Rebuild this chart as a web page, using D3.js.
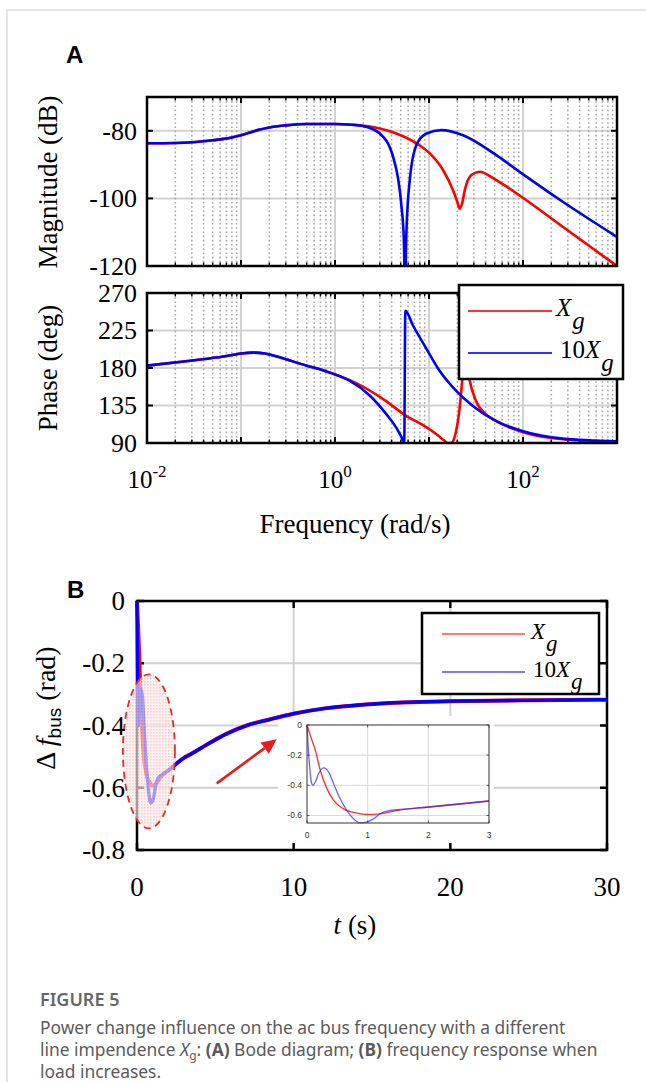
<!DOCTYPE html>
<html lang="en">
<head>
<meta charset="UTF-8">
<title>Figure 5</title>
<style>
  body { margin: 0; background: #fff; }
  svg { display: block; }
</style>
</head>
<body>
<svg id="fig" width="646" height="1082"></svg>
<script src="https://cdnjs.cloudflare.com/ajax/libs/d3/7.8.5/d3.min.js"></script>
<script>
// ---- data ----
const seriesNames = ["X", "10X"];          // legend: X_g and 10X_g
const seriesColors = ["#ff0000", "#0000ff"];

// Bode magnitude (dB)
const magFreqXg  = [0.01, 0.02, 0.03, 0.05, 0.07, 0.1, 0.15, 0.2, 0.3, 0.5, 1, 1.5, 2, 3, 4.5, 7.35, 10.2, 14.1, 18, 20, 21.2, 22.5, 24, 28.2, 34.5, 52, 97, 265, 1000];
const magXg      = [-83.7, -83.6, -83.4, -82.8, -82.3, -81.3, -79.8, -79.0, -78.4, -78.0, -78.0, -78.2, -78.5, -79.3, -80.8, -83.7, -86.7, -91.6, -97.6, -101, -103, -101.5, -97.6, -93.1, -92.1, -94.6, -99.6, -108.4, -120];
const magFreq10Xg = [0.01, 0.02, 0.03, 0.05, 0.07, 0.1, 0.15, 0.2, 0.3, 0.5, 1, 1.5, 2, 3, 4.15, 5.1, 5.4, 5.55, 5.75, 6.24, 7.35, 9.4, 13.5, 23, 52, 97, 265, 1000];
const mag10Xg     = [-83.7, -83.6, -83.4, -82.8, -82.3, -81.3, -79.8, -79.0, -78.4, -78.0, -78.0, -78.2, -78.6, -80.8, -87.7, -102.5, -112, -126, -110, -94.6, -84.2, -80.8, -79.8, -81.3, -87.2, -92.6, -101.0, -111.4];

// Bode phase (deg)
const phFreqXg  = [0.01, 0.029, 0.065, 0.1, 0.136, 0.18, 0.22, 0.5, 0.8, 1.13, 1.44, 2.34, 3.53, 5.75, 8, 10.2, 12.5, 14.5, 15.9, 17.2, 18.6, 21.2, 22.6, 24.5, 27, 31.6, 40.5, 52, 100, 265, 1000];
const phXg      = [182.8, 188.8, 193.7, 197.5, 198.5, 197.5, 194.9, 182.8, 176, 170, 165.5, 153, 140, 122.3, 113.5, 106.2, 99, 93, 90, 90, 96.1, 132.4, 165.8, 198, 166, 140.4, 124.3, 116.2, 103, 94.5, 91.5];
const phFreq10Xg = [0.01, 0.029, 0.065, 0.1, 0.136, 0.18, 0.22, 0.5, 0.8, 1.13, 1.44, 2.34, 3.53, 4.5, 5.1, 5.45, 5.6, 6.76, 9.4, 12.9, 19.5, 29.3, 52, 100, 265, 1000];
const ph10Xg     = [182.8, 188.8, 193.7, 197.5, 198.5, 197.5, 194.9, 182.8, 176, 170, 164.5, 147, 124.3, 108.2, 97, 90, 248.5, 231, 203, 177, 152.5, 134.4, 116.2, 104.1, 95.3, 92];

const magTicks = [-80, -100, -120];
const phaseTicks = [90, 135, 180, 225, 270];
const freqTickExp = [-2, 0, 2];

// Frequency response (rad), first 3 s per series, then the common tail
const tEarlyXg  = [0, 0.005, 0.03, 0.137, 0.219, 0.328, 0.438, 0.602, 0.821, 0.985, 1.204, 1.478, 2.009, 3.0];
const dfEarlyXg = [0, -0.005, -0.04, -0.167, -0.3, -0.422, -0.5, -0.556, -0.584, -0.593, -0.589, -0.567, -0.544, -0.504];
const tEarly10Xg  = [0, 0.016, 0.044, 0.071, 0.099, 0.137, 0.192, 0.274, 0.356, 0.438, 0.547, 0.657, 0.766, 0.876, 0.985, 1.095, 1.204, 1.368, 1.478, 2.009, 3.0];
const dfEarly10Xg = [0, -0.122, -0.278, -0.378, -0.4, -0.378, -0.322, -0.284, -0.311, -0.389, -0.489, -0.567, -0.622, -0.649, -0.644, -0.622, -0.589, -0.567, -0.562, -0.544, -0.504];
const tLate  = [3.5, 4.5, 5.7, 7, 8.5, 10, 12, 14, 17, 20, 25, 30];
const dfLate = [-0.49, -0.46, -0.427, -0.40, -0.38, -0.362, -0.345, -0.335, -0.326, -0.322, -0.319, -0.317];

const tTicks = [0, 10, 20, 30];
const dfTicks = [0, -0.2, -0.4, -0.6, -0.8];
const insetTTicks = [0, 1, 2, 3];
const insetDfTicks = [0, -0.2, -0.4, -0.6];

// ---- drawing ----
const svg = d3.select("#fig");
const serif = '"Liberation Serif", "Times New Roman", serif';
const sans = '"Liberation Sans", Arial, sans-serif';

// card border
svg.append("line").attr("x1", 7).attr("y1", 10).attr("x2", 646).attr("y2", 10).attr("stroke", "#dcdcdc").attr("stroke-width", 1.5);
svg.append("line").attr("x1", 7).attr("y1", 10).attr("x2", 7).attr("y2", 1082).attr("stroke", "#dcdcdc").attr("stroke-width", 1.5);

const defs = svg.append("defs");

function zip(xs, ys) { return xs.map((x, i) => [x, ys[i]]); }

// ===== Panel A =====
svg.append("text").attr("x", 66).attr("y", 63).attr("font-family", sans).attr("font-weight", "bold")
  .attr("font-size", 24).text("A");

const x = d3.scaleLog().domain([0.01, 1000]).range([147, 617]);
const yMag = d3.scaleLinear().domain([-120, -70]).range([266, 97]);
const yPh = d3.scaleLinear().domain([90, 270]).range([443, 293]);

const minorFreqs = [];
d3.range(-2, 3).forEach(e => d3.range(2, 10).forEach(k => minorFreqs.push(k * Math.pow(10, e))));
const majorFreqs = d3.range(-2, 4).map(e => Math.pow(10, e));

function bodePanel(yScale, ticks, series, clipId) {
  const [y0, y1] = yScale.range();
  const g = svg.append("g");
  // grid
  g.selectAll(".hg").data(ticks).join("line")
    .attr("x1", x.range()[0]).attr("x2", x.range()[1])
    .attr("y1", d => yScale(d)).attr("y2", d => yScale(d))
    .attr("stroke", "#d2d2d2").attr("stroke-width", 2);
  g.selectAll(".mg").data(minorFreqs).join("line")
    .attr("x1", d => x(d)).attr("x2", d => x(d)).attr("y1", y1).attr("y2", y0)
    .attr("stroke", "#a8a8a8").attr("stroke-width", 1.6).attr("stroke-dasharray", "1.6,2.6");
  g.selectAll(".Mg").data(majorFreqs.slice(1, -1)).join("line")
    .attr("x1", d => x(d)).attr("x2", d => x(d)).attr("y1", y1).attr("y2", y0)
    .attr("stroke", "#d2d2d2").attr("stroke-width", 2);
  // ticks (inside, all four sides)
  [y0, y1].forEach((yy, i) => {
    const dir = i === 0 ? -1 : 1;
    g.selectAll(null).data(majorFreqs).join("line")
      .attr("x1", d => x(d)).attr("x2", d => x(d)).attr("y1", yy).attr("y2", yy + dir * 6)
      .attr("stroke", "#000").attr("stroke-width", 2);
    g.selectAll(null).data(minorFreqs).join("line")
      .attr("x1", d => x(d)).attr("x2", d => x(d)).attr("y1", yy).attr("y2", yy + dir * 3.5)
      .attr("stroke", "#000").attr("stroke-width", 1.4);
  });
  [x.range()[0], x.range()[1]].forEach((xx, i) => {
    const dir = i === 0 ? 1 : -1;
    g.selectAll(null).data(ticks).join("line")
      .attr("x1", xx).attr("x2", xx + dir * 6).attr("y1", d => yScale(d)).attr("y2", d => yScale(d))
      .attr("stroke", "#000").attr("stroke-width", 2);
  });
  // curves
  defs.append("clipPath").attr("id", clipId).append("rect")
    .attr("x", x.range()[0]).attr("y", y1).attr("width", x.range()[1] - x.range()[0]).attr("height", y0 - y1);
  const line = d3.line().x(d => x(d[0])).y(d => yScale(d[1])).curve(d3.curveMonotoneX);
  const cg = g.append("g").attr("clip-path", `url(#${clipId})`);
  series.forEach((s, i) => {
    cg.append("path").attr("d", line(s)).attr("fill", "none")
      .attr("stroke", seriesColors[i]).attr("stroke-width", 2.6).attr("stroke-linejoin", "round");
  });
  // frame
  g.append("rect").attr("x", x.range()[0]).attr("y", y1)
    .attr("width", x.range()[1] - x.range()[0]).attr("height", y0 - y1)
    .attr("fill", "none").attr("stroke", "#000").attr("stroke-width", 2.5);
  // tick labels
  g.selectAll(".yl").data(ticks).join("text")
    .attr("x", 137).attr("y", d => yScale(d)).attr("dy", "0.34em")
    .attr("text-anchor", "end").attr("font-family", serif).attr("font-size", 26)
    .text(d => d < 0 ? "-" + Math.abs(d) : d);
  return g;
}

bodePanel(yMag, magTicks, [zip(magFreqXg, magXg), zip(magFreq10Xg, mag10Xg)], "clipMag");
bodePanel(yPh, phaseTicks, [zip(phFreqXg, phXg), zip(phFreq10Xg, ph10Xg)], "clipPh");

// axis titles A
svg.append("text").attr("transform", "translate(57,182) rotate(-90)").attr("text-anchor", "middle")
  .attr("font-family", serif).attr("font-size", 27).text("Magnitude (dB)");
svg.append("text").attr("transform", "translate(57,368) rotate(-90)").attr("text-anchor", "middle")
  .attr("font-family", serif).attr("font-size", 27).text("Phase (deg)");

// frequency tick labels
const ftl = svg.selectAll(".ftl").data(freqTickExp).join("text")
  .attr("x", d => x(Math.pow(10, d))).attr("y", 488)
  .attr("text-anchor", "middle").attr("font-family", serif).attr("font-size", 25);
ftl.append("tspan").text("10");
ftl.append("tspan").attr("dy", -11).attr("font-size", 17).text(d => d < 0 ? "-" + Math.abs(d) : d);
svg.append("text").attr("x", 355).attr("y", 533).attr("text-anchor", "middle")
  .attr("font-family", serif).attr("font-size", 27).text("Frequency (rad/s)");

// legend helper
function legend(x0, y0, w, h, rows, lineW, lineColors, fontSize, subDy) {
  const g = svg.append("g");
  g.append("rect").attr("x", x0).attr("y", y0).attr("width", w).attr("height", h)
    .attr("fill", "#fff").attr("stroke", "#000").attr("stroke-width", 2.5);
  rows.forEach((r, i) => {
    g.append("line").attr("x1", r.lx1).attr("x2", r.lx2).attr("y1", r.y).attr("y2", r.y)
      .attr("stroke", lineColors[i]).attr("stroke-width", lineW);
    const t = g.append("text").attr("x", r.tx).attr("y", r.y + 5)
      .attr("font-family", serif).attr("font-size", fontSize);
    const name = seriesNames[i];
    if (name.startsWith("10")) t.append("tspan").text("10");
    t.append("tspan").attr("font-style", "italic").text("X");
    t.append("tspan").attr("font-style", "italic").attr("dy", subDy).attr("dx", 1).text("g");
  });
}

legend(459, 285, 164, 94, [
  { lx1: 468, lx2: 552, y: 311, tx: 556 },
  { lx1: 468, lx2: 552, y: 353, tx: 560 }
], 2, ["#ff3333", "#3333ff"], 25, 13);

// ===== Panel B =====
svg.append("text").attr("x", 67).attr("y", 598).attr("font-family", sans).attr("font-weight", "bold")
  .attr("font-size", 24).text("B");

const xt = d3.scaleLinear().domain([0, 30]).range([137, 607]);
const yf = d3.scaleLinear().domain([-0.8, 0]).range([850, 601]);

const xi = d3.scaleLinear().domain([0, 3]).range([307, 489]);
const yi = d3.scaleLinear().domain([-0.65, 0]).range([823, 725]);

const gB = svg.append("g");
gB.selectAll(".hg").data(dfTicks.slice(1, -1)).join("line")
  .attr("x1", 137).attr("x2", 607).attr("y1", d => yf(d)).attr("y2", d => yf(d))
  .attr("stroke", "#d2d2d2").attr("stroke-width", 2);
gB.selectAll(".vg").data(tTicks.slice(1, -1)).join("line")
  .attr("x1", d => xt(d)).attr("x2", d => xt(d)).attr("y1", 601).attr("y2", 850)
  .attr("stroke", "#d2d2d2").attr("stroke-width", 2);
// inset background sits over the grid
gB.append("rect").attr("x", 278).attr("y", 716).attr("width", 216).attr("height", 127).attr("fill", "#fff");
[850, 601].forEach((yy, i) => {
  const dir = i === 0 ? -1 : 1;
  gB.selectAll(null).data(tTicks).join("line")
    .attr("x1", d => xt(d)).attr("x2", d => xt(d)).attr("y1", yy).attr("y2", yy + dir * 7)
    .attr("stroke", "#000").attr("stroke-width", 2.5);
});
[137, 607].forEach((xx, i) => {
  const dir = i === 0 ? 1 : -1;
  gB.selectAll(null).data(dfTicks).join("line")
    .attr("x1", xx).attr("x2", xx + dir * 7).attr("y1", d => yf(d)).attr("y2", d => yf(d))
    .attr("stroke", "#000").attr("stroke-width", 2.5);
});
gB.append("rect").attr("x", 137).attr("y", 601).attr("width", 470).attr("height", 249)
  .attr("fill", "none").attr("stroke", "#000").attr("stroke-width", 2.5);

const lineB = d3.line().x(d => xt(d[0])).y(d => yf(d[1])).curve(d3.curveMonotoneX);
const mainXg = zip(tEarlyXg, dfEarlyXg).concat(zip(tLate, dfLate));
const main10Xg = zip(tEarly10Xg, dfEarly10Xg).concat(zip(tLate, dfLate));
gB.append("path").attr("d", lineB(mainXg)).attr("fill", "none").attr("stroke", seriesColors[0]).attr("stroke-width", 4);
gB.append("path").attr("d", lineB(main10Xg)).attr("fill", "none").attr("stroke", seriesColors[1]).attr("stroke-width", 3.3);

// highlighted region
const pat = defs.append("pattern").attr("id", "dots").attr("width", 3).attr("height", 3)
  .attr("patternUnits", "userSpaceOnUse");
pat.append("rect").attr("width", 3).attr("height", 3).attr("fill", "#fbeaea");
pat.append("rect").attr("width", 1.5).attr("height", 1.5).attr("fill", "#f1b9b9");
gB.append("ellipse").attr("cx", xt(0.76)).attr("cy", yf(-0.483)).attr("rx", 26).attr("ry", 77)
  .attr("fill", "url(#dots)").attr("fill-opacity", 0.68)
  .attr("stroke", "#e52b2b").attr("stroke-width", 1.8).attr("stroke-dasharray", "7,5");

// tick labels B
gB.selectAll(".yl").data(dfTicks).join("text")
  .attr("x", 125).attr("y", d => yf(d)).attr("dy", "0.34em").attr("text-anchor", "end")
  .attr("font-family", serif).attr("font-size", 27).text(d => d === 0 ? "0" : d.toFixed(1));
gB.selectAll(".xl").data(tTicks).join("text")
  .attr("x", d => xt(d)).attr("y", 896).attr("text-anchor", "middle")
  .attr("font-family", serif).attr("font-size", 27).text(d => d);
svg.append("text").attr("x", 355).attr("y", 934).attr("text-anchor", "middle")
  .attr("font-family", serif).attr("font-size", 27)
  .call(t => { t.append("tspan").attr("font-style", "italic").text("t"); t.append("tspan").text(" (s)"); });

const yLab = svg.append("text").attr("transform", "translate(55,708) rotate(-90)").attr("text-anchor", "middle")
  .attr("font-family", serif).attr("font-size", 28);
yLab.append("tspan").text("Δ ");
yLab.append("tspan").attr("font-style", "italic").text("f");
yLab.append("tspan").attr("font-family", sans).attr("font-size", 19).attr("dy", 6).text("bus");
yLab.append("tspan").attr("dy", -6).text(" (rad)");

// arrow
const a0 = [xt(5.09), yf(-0.586)], a1 = [xt(8.92), yf(-0.444)];
const ang = Math.atan2(a1[1] - a0[1], a1[0] - a0[0]);
const headL = 15, headW = 7;
const base = [a1[0] - headL * Math.cos(ang), a1[1] - headL * Math.sin(ang)];
svg.append("line").attr("x1", a0[0]).attr("y1", a0[1]).attr("x2", base[0]).attr("y2", base[1])
  .attr("stroke", "#e81c1c").attr("stroke-width", 2.6);
svg.append("polygon").attr("fill", "#e81c1c").attr("points", [
  a1,
  [base[0] + headW * Math.sin(ang), base[1] - headW * Math.cos(ang)],
  [base[0] - headW * Math.sin(ang), base[1] + headW * Math.cos(ang)]
].map(p => p.join(",")).join(" "));

// inset
const gI = svg.append("g");
gI.selectAll(".hg").data(insetDfTicks.slice(1)).join("line")
  .attr("x1", 307).attr("x2", 489).attr("y1", d => yi(d)).attr("y2", d => yi(d))
  .attr("stroke", "#d9d9d9").attr("stroke-width", 1);
gI.selectAll(".vg").data(insetTTicks.slice(1, -1)).join("line")
  .attr("x1", d => xi(d)).attr("x2", d => xi(d)).attr("y1", 725).attr("y2", 823)
  .attr("stroke", "#d9d9d9").attr("stroke-width", 1);
[823, 725].forEach((yy, i) => {
  const dir = i === 0 ? -1 : 1;
  gI.selectAll(null).data(insetTTicks).join("line")
    .attr("x1", d => xi(d)).attr("x2", d => xi(d)).attr("y1", yy).attr("y2", yy + dir * 2.5)
    .attr("stroke", "#333").attr("stroke-width", 0.8);
});
[307, 489].forEach((xx, i) => {
  const dir = i === 0 ? 1 : -1;
  gI.selectAll(null).data(insetDfTicks).join("line")
    .attr("x1", xx).attr("x2", xx + dir * 2.5).attr("y1", d => yi(d)).attr("y2", d => yi(d))
    .attr("stroke", "#333").attr("stroke-width", 0.8);
});
const lineI = d3.line().x(d => xi(d[0])).y(d => yi(d[1])).curve(d3.curveMonotoneX);
gI.append("path").attr("d", lineI(zip(tEarlyXg, dfEarlyXg))).attr("fill", "none")
  .attr("stroke", "#ff1a1a").attr("stroke-width", 1.3).attr("stroke-opacity", 0.9);
gI.append("path").attr("d", lineI(zip(tEarly10Xg, dfEarly10Xg))).attr("fill", "none")
  .attr("stroke", "#3030ff").attr("stroke-width", 1.3).attr("stroke-opacity", 0.75);
gI.append("rect").attr("x", 307).attr("y", 725).attr("width", 182).attr("height", 98)
  .attr("fill", "none").attr("stroke", "#333").attr("stroke-width", 1);
gI.selectAll(".yl").data(insetDfTicks).join("text")
  .attr("x", 302).attr("y", d => yi(d)).attr("dy", "0.34em").attr("text-anchor", "end")
  .attr("font-family", sans).attr("font-size", 8.5).attr("fill", "#333").text(d => d === 0 ? "0" : d.toFixed(1));
gI.selectAll(".xl").data(insetTTicks).join("text")
  .attr("x", d => xi(d)).attr("y", 838).attr("text-anchor", "middle")
  .attr("font-family", sans).attr("font-size", 8.5).attr("fill", "#333").text(d => d);

legend(422, 613, 177, 81, [
  { lx1: 442, lx2: 525, y: 634, tx: 531 },
  { lx1: 442, lx2: 525, y: 672, tx: 533 }
], 1.5, ["#ff4d4d", "#4d4dff"], 23, 12);

// ===== caption =====
const cap = svg.append("g").attr("font-family", '"Noto Sans", "Open Sans", sans-serif').attr("fill", "#5a5a5a");
cap.append("text").attr("x", 40).attr("y", 1006).attr("font-size", 18).attr("font-weight", 600)
  .attr("fill", "#666").text("FIGURE 5");
cap.append("text").attr("x", 40).attr("y", 1034).attr("font-size", 17.4)
  .text("Power change influence on the ac bus frequency with a different");
const l2 = cap.append("text").attr("x", 40).attr("y", 1056).attr("font-size", 17.4);
l2.append("tspan").text("line impendence ");
l2.append("tspan").attr("font-style", "italic").text("X");
l2.append("tspan").attr("font-size", 12).attr("dy", 4).text("g");
l2.append("tspan").attr("dy", -4).text(": ");
l2.append("tspan").attr("font-weight", "bold").text("(A)");
l2.append("tspan").text(" Bode diagram; ");
l2.append("tspan").attr("font-weight", "bold").text("(B)");
l2.append("tspan").text(" frequency response when");
cap.append("text").attr("x", 40).attr("y", 1078).attr("font-size", 17.4).text("load increases.");
</script>
</body>
</html>
